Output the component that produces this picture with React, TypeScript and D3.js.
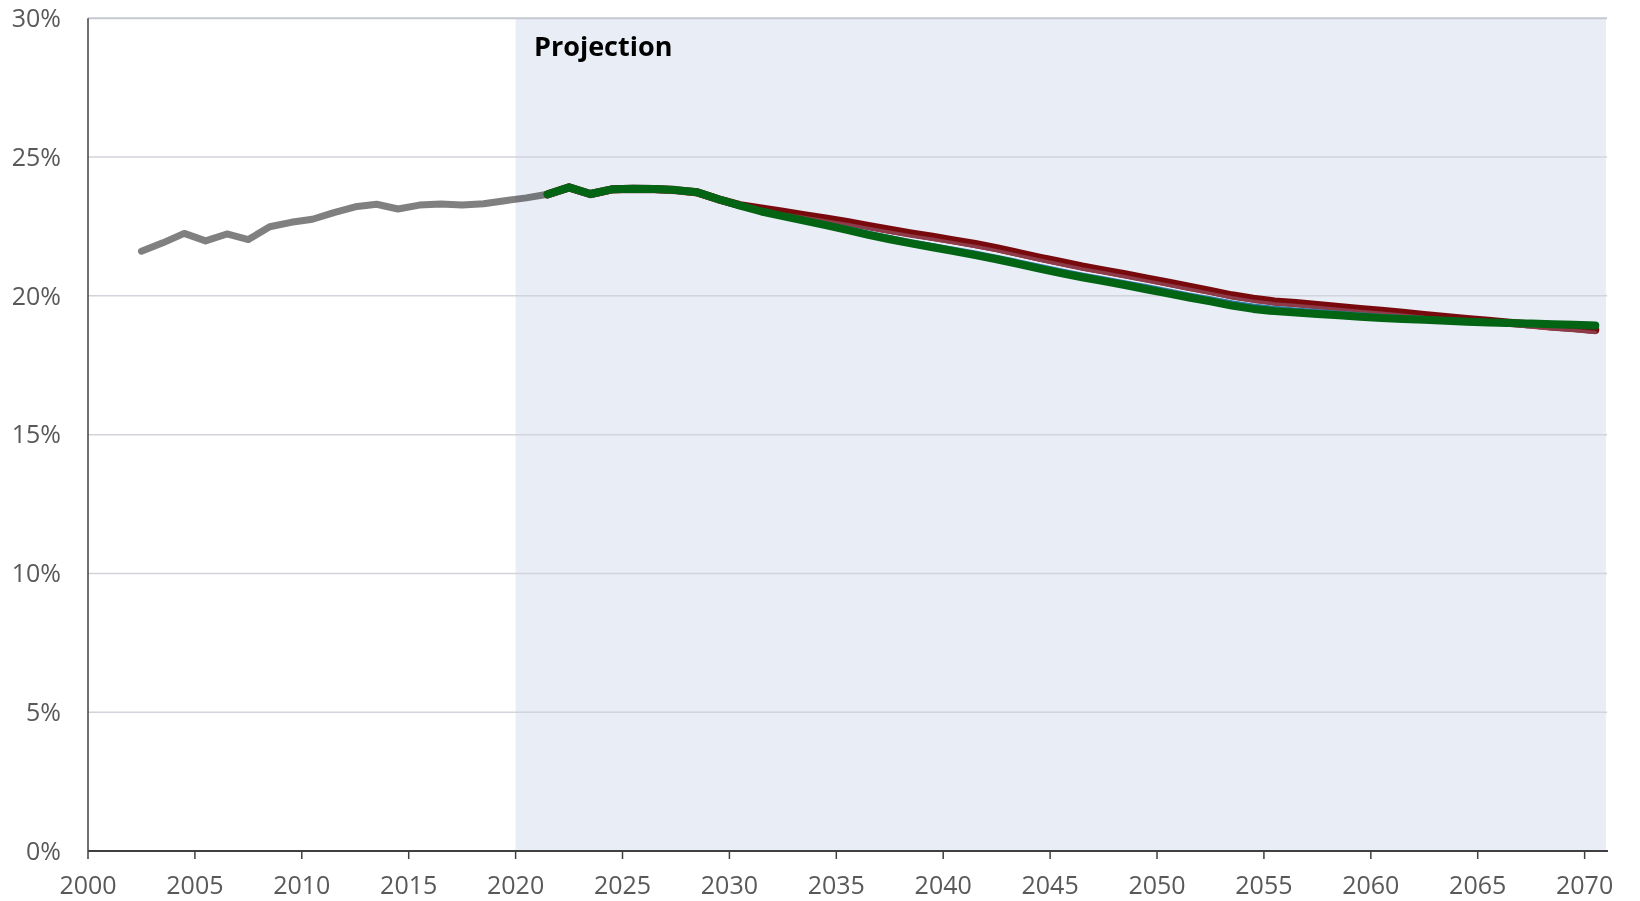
import React from "react";
import * as d3 from "d3";

const histYears = [2002,2003,2004,2005,2006,2007,2008,2009,2010,2011,2012,2013,2014,2015,2016,2017,2018,2019,2020,2021];
const histValues = [21.61,21.91,22.25,21.98,22.23,22.03,22.49,22.65,22.76,23.0,23.21,23.3,23.13,23.27,23.31,23.27,23.32,23.43,23.53,23.66];

const projYears = [2021,2022,2023,2024,2025,2026,2027,2028,2029,2030,2031,2032,2033,2034,2035,2036,2037,2038,2039,2040,2041,2042,2043,2044,2045,2046,2047,2048,2049,2050,2051,2052,2053,2054,2055,2056,2057,2058,2059,2060,2061,2062,2063,2064,2065,2066,2067,2068,2069,2070];

const greenValues = [23.66,23.91,23.67,23.84,23.86,23.85,23.81,23.73,23.48,23.25,23.04,22.87,22.71,22.55,22.38,22.2,22.04,21.89,21.75,21.61,21.47,21.32,21.15,20.98,20.82,20.67,20.53,20.39,20.24,20.09,19.94,19.8,19.65,19.53,19.45,19.4,19.35,19.3,19.25,19.2,19.17,19.14,19.1,19.07,19.04,19.02,19.0,18.98,18.96,18.93];

const redValues = [23.66,23.91,23.67,23.84,23.86,23.85,23.81,23.73,23.48,23.27,23.15,23.03,22.91,22.79,22.66,22.52,22.38,22.25,22.13,22.0,21.87,21.72,21.55,21.38,21.22,21.06,20.92,20.78,20.63,20.48,20.33,20.18,20.02,19.9,19.8,19.74,19.67,19.6,19.53,19.46,19.39,19.31,19.24,19.17,19.1,19.03,18.97,18.9,18.84,18.77];

const blueValues = [23.66,23.91,23.67,23.84,23.86,23.85,23.81,23.73,23.48,23.26,23.08,22.93,22.78,22.63,22.47,22.3,22.14,21.99,21.85,21.72,21.58,21.43,21.27,21.1,20.94,20.79,20.65,20.51,20.37,20.22,20.07,19.93,19.79,19.67,19.59,19.53,19.47,19.41,19.36,19.3,19.26,19.22,19.18,19.14,19.11,19.08,19.06,19.04,19.02,19.0];

const xTicks = [2000,2005,2010,2015,2020,2025,2030,2035,2040,2045,2050,2055,2060,2065,2070];
const yTicks = [0,5,10,15,20,25,30];
const projectionStart = 2020;
const projectionLabel = "Projection";

export default function App() {
  const W = 1640, H = 901;
  const x0 = 88, x1 = 1606, yTop = 18.3, yBot = 851;
  const x = d3.scaleLinear().domain([2000, 2071]).range([x0, x1]);
  const y = d3.scaleLinear().domain([0, 30]).range([yBot, yTop]);
  const line = d3.line<[number, number]>().x(d => x(d[0] + 0.5)).y(d => y(d[1]));
  const hist = line(histYears.map((yr, i) => [yr, histValues[i]]))!;
  const red = line(projYears.map((yr, i) => [yr, redValues[i]]))!;
  const blue = line(projYears.map((yr, i) => [yr, blueValues[i]]))!;
  const green = line(projYears.map((yr, i) => [yr, greenValues[i]]))!;
  const font = "'Open Sans', sans-serif";

  return (
    <svg width={W} height={H} style={{ position: "absolute", left: 0, top: 0, background: "#fff" }}>
      <rect x={x(projectionStart)} y={yTop} width={x1 - x(projectionStart)} height={yBot - yTop} fill="#e9edf5" />
      {yTicks.filter(t => t > 0).map(t => (
        <line key={t} x1={x0} x2={x1 + 1} y1={y(t)} y2={y(t)} stroke={t === 30 ? "#c4c8d0" : "#d2d4dc"} strokeWidth={t === 30 ? 2 : 1.5} />
      ))}
      {yTicks.map(t => (
        <text key={t} x={61} y={y(t)} dy="0.35em" textAnchor="end" fontFamily={font} fontSize={25} fill="#595959">{t}%</text>
      ))}
      <line x1={x0} x2={x0} y1={yTop} y2={yBot} stroke="#404040" strokeWidth={1.5} />
      <line x1={x0} x2={x1 + 2} y1={yBot} y2={yBot} stroke="#404040" strokeWidth={2} />
      {xTicks.map(t => (
        <g key={t}>
          <line x1={x(t)} x2={x(t)} y1={yBot} y2={yBot + 8} stroke="#404040" strokeWidth={1.5} />
          <text x={x(t)} y={894} textAnchor="middle" fontFamily={font} fontSize={25} fill="#595959">{t}</text>
        </g>
      ))}
      <text x={534} y={56} fontFamily={font} fontSize={27} fontWeight="bold" fill="#000">{projectionLabel}</text>
      <path d={hist} fill="none" stroke="#808080" strokeWidth={7} strokeLinecap="round" strokeLinejoin="round" style={{ mixBlendMode: "multiply" }} />
      <path d={red} fill="none" stroke="#780a0e" strokeWidth={8} strokeLinecap="round" strokeLinejoin="round" />
      <path d={red} fill="none" stroke="#8d3b48" strokeWidth={3.5} strokeLinecap="round" strokeLinejoin="round" transform="translate(0,2.5)" />
      <path d={blue} fill="none" stroke="#2e7aa4" strokeWidth={3} strokeLinecap="round" strokeLinejoin="round" />
      <path d={green} fill="none" stroke="#036413" strokeWidth={8} strokeLinecap="round" strokeLinejoin="round" />
    </svg>
  );
}
